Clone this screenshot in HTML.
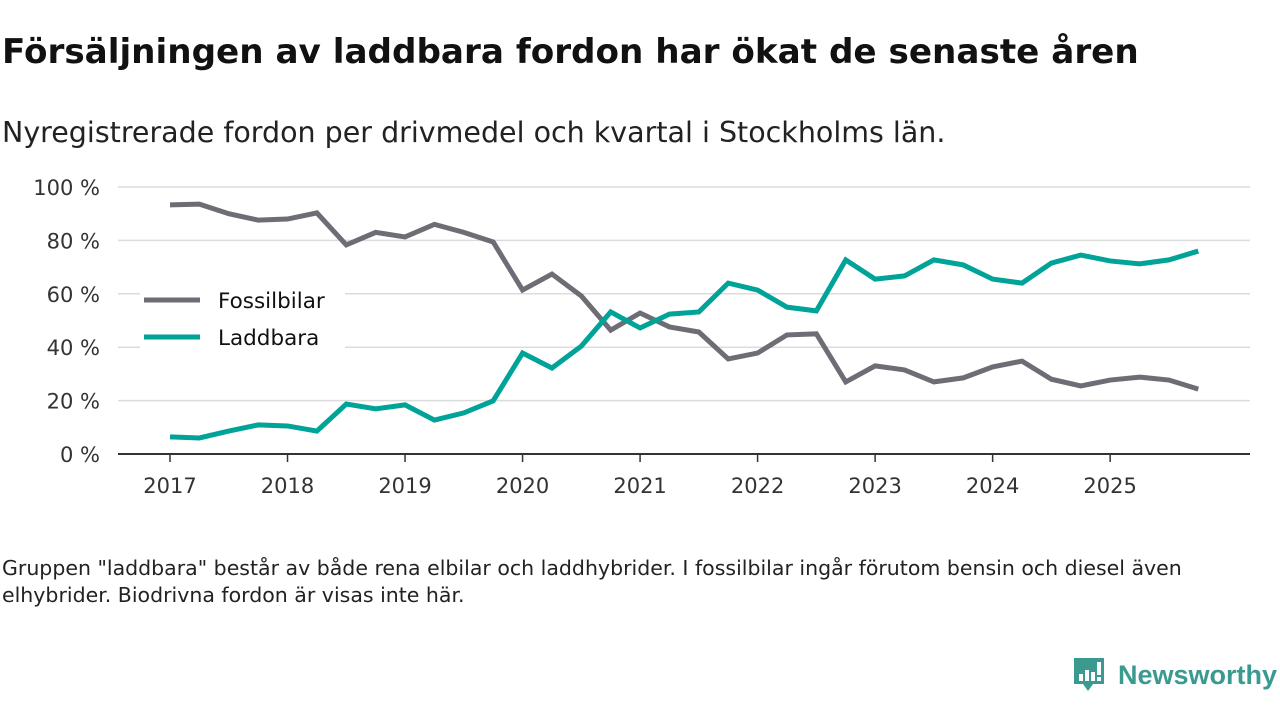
<!DOCTYPE html>
<html><head><meta charset="utf-8"><style>
body{margin:0;width:1280px;height:720px;background:#fff;font-family:"DejaVu Sans","Liberation Sans",sans-serif;overflow:hidden;position:relative}
h1{position:absolute;left:2px;top:32px;margin:0;font-size:34.2px;font-weight:bold;color:#111;white-space:nowrap}
.sub{position:absolute;left:2px;top:116px;font-size:28.5px;color:#222;white-space:nowrap}
.note{position:absolute;left:2px;top:555px;font-size:20.5px;color:#222;line-height:27px;width:1215px}
.logo{position:absolute;left:1072px;top:656px}
</style></head><body>
<h1>Försäljningen av laddbara fordon har ökat de senaste åren</h1>
<div class="sub">Nyregistrerade fordon per drivmedel och kvartal i Stockholms län.</div>
<svg id="chart" width="1280" height="540" style="position:absolute;left:0;top:0"></svg>
<div class="note">Gruppen "laddbara" består av både rena elbilar och laddhybrider. I fossilbilar ingår förutom bensin och diesel även elhybrider. Biodrivna fordon är visas inte här.</div>
<svg class="logo" width="210" height="40">
<path d="M2 2h30v26h-11l-5 7-5-7h-9z" fill="#3a9a90"/>
<rect x="7" y="18" width="4" height="7" fill="#fff"/><rect x="13" y="14" width="4" height="11" fill="#fff"/><rect x="19" y="16" width="4" height="9" fill="#fff"/><rect x="25" y="6" width="4" height="13" fill="#fff"/><rect x="25" y="21" width="4" height="4" fill="#fff"/>
<text x="46" y="28" font-size="27" font-weight="bold" fill="#3a9a90" font-family="Liberation Sans, sans-serif">Newsworthy</text>
</svg>
<script>
const quarters = ["2017Q1","2017Q2","2017Q3","2017Q4","2018Q1","2018Q2","2018Q3","2018Q4","2019Q1","2019Q2","2019Q3","2019Q4","2020Q1","2020Q2","2020Q3","2020Q4","2021Q1","2021Q2","2021Q3","2021Q4","2022Q1","2022Q2","2022Q3","2022Q4","2023Q1","2023Q2","2023Q3","2023Q4","2024Q1","2024Q2","2024Q3","2024Q4","2025Q1","2025Q2","2025Q3","2025Q4"];
const fossil = [93.3,93.6,90,87.6,88,90.3,78.3,83,81.3,86,83,79.4,61.4,67.4,59.2,46.4,52.8,47.6,45.7,35.6,37.8,44.6,45,27,33,31.5,27,28.5,32.6,34.8,28,25.5,27.7,28.8,27.7,24.3];
const laddbara = [6.4,6,8.6,10.9,10.5,8.6,18.7,16.9,18.4,12.7,15.4,19.9,37.8,32.2,40.4,53.2,47.2,52.4,53.2,64,61.4,55,53.6,72.7,65.5,66.7,72.7,70.8,65.5,64,71.5,74.5,72.3,71.2,72.7,76];
const yTicks = [0,20,40,60,80,100];
const years = [2017,2018,2019,2020,2021,2022,2023,2024,2025];
const NS="http://www.w3.org/2000/svg";
const svg=document.getElementById('chart');
const X=i=>170+i*29.38;
const Y=v=>454-v*2.67;
function mk(t,a){const e=document.createElementNS(NS,t);for(const k in a)e.setAttribute(k,a[k]);svg.appendChild(e);return e;}
yTicks.forEach(v=>{
  if(v>0){const g=mk('line',{x1:118,x2:1250,y1:Y(v),y2:Y(v),stroke:'#dcdcdc','stroke-width':1.5});
  
  }
  const t=mk('text',{x:100,y:Y(v)+8,'text-anchor':'end','font-size':21,fill:'#333'});
  t.textContent=v+' %';
  
  
});
const ax=mk('line',{x1:118,x2:1250,y1:454,y2:454,stroke:'#333','stroke-width':2});


years.forEach((yr,k)=>{
  const x=X(k*4);
  mk('line',{x1:x,x2:x,y1:454,y2:462,stroke:'#333','stroke-width':1.5});
  const t=mk('text',{x:x,y:493,'text-anchor':'middle','font-size':21,fill:'#333'});
  t.textContent=yr;
  
  
});
function line(d,c,name){
  const p=mk('polyline',{points:d.map((v,i)=>X(i)+','+Y(v)).join(' '),fill:'none',stroke:c,'stroke-width':5,'stroke-linejoin':'miter'});
  
  
}
line(fossil,'#6e6d75','fossilbilar-line');
line(laddbara,'#00a397','laddbara-line');
const bg=mk('rect',{x:140,y:280,width:205,height:72,fill:'#fff'});


[['Fossilbilar','#6e6d75',300],['Laddbara','#00a397',337]].forEach(([n,c,y])=>{
  mk('line',{x1:144,x2:200,y1:y,y2:y,stroke:c,'stroke-width':5});
  const t=mk('text',{x:218,y:y+8,'font-size':21.5,fill:'#111'});
  t.textContent=n;
  
  
});
</script>
</body></html>
